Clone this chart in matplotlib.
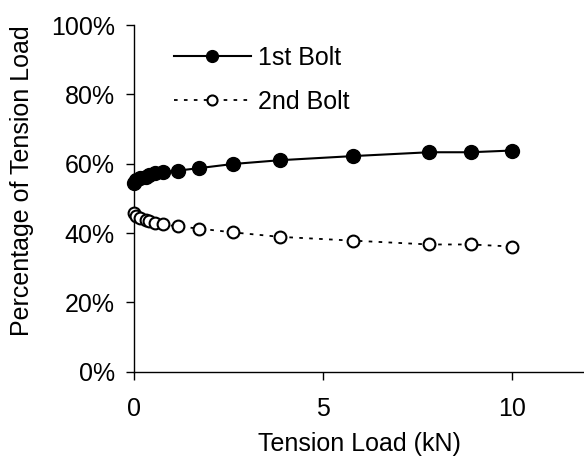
import matplotlib
matplotlib.use("Agg")
import matplotlib.pyplot as plt
from matplotlib.ticker import FuncFormatter

plt.rcParams['font.family'] = ['Liberation Sans', 'DejaVu Sans']

load_kn = [0, 0.05, 0.15, 0.3, 0.4, 0.55, 0.75, 1.15, 1.7, 2.6, 3.85, 5.8, 7.8, 8.9, 10.0]
bolt1_pct = [54.3, 55.2, 55.8, 56.3, 56.7, 57.2, 57.6, 58.0, 58.7, 59.9, 61.0, 62.2, 63.3, 63.3, 63.8]
bolt2_pct = [45.8, 44.9, 44.3, 43.8, 43.4, 43.0, 42.5, 41.9, 41.3, 40.2, 38.9, 37.8, 36.7, 36.7, 36.1]
series_names = ["1st Bolt", "2nd Bolt"]
x_ticks = [0, 5, 10]
y_ticks = [0, 20, 40, 60, 80, 100]

FS = 18

fig = plt.figure(figsize=(5.84, 4.58), dpi=100)
ax = fig.add_axes([0.23, 0.1884, 0.77, 0.757])

ax.plot(load_kn, bolt1_pct, color='black', lw=1.5, marker='o', ms=10,
        mfc='black', mec='black', label=series_names[0], clip_on=False, zorder=3)
ax.plot(load_kn, bolt2_pct, color='black', lw=1.3, ls=(0, (2, 3.5)), marker='o', ms=8.5,
        mfc='white', mec='black', mew=1.5, label=series_names[1], clip_on=False, zorder=3)

ax.set_xlim(0, 11.9)
ax.set_ylim(0, 100)
ax.set_xticks(x_ticks)
ax.set_yticks(y_ticks)
ax.yaxis.set_major_formatter(FuncFormatter(lambda v, p: f"{int(v)}%"))
for s in ['top', 'right']:
    ax.spines[s].set_visible(False)
ax.spines['left'].set_linewidth(1.0)
ax.spines['bottom'].set_linewidth(1.0)
ax.tick_params(direction='out', length=6, width=1, labelsize=FS, colors='black')
ax.tick_params(axis='y', pad=8)
ax.tick_params(axis='x', pad=12)

ax.set_xlabel("Tension Load (kN)", fontsize=FS, labelpad=8)
ax.set_ylabel("Percentage of Tension Load", fontsize=FS)
ax.yaxis.set_label_coords(-0.222, 0.55)

leg = ax.legend(loc='upper left', bbox_to_anchor=(0.038, 1.004), frameon=False,
                fontsize=FS, handlelength=3.08, handletextpad=0.28, labelspacing=0.78,
                markerscale=0.85)

fig.savefig("out.png", dpi=100)
